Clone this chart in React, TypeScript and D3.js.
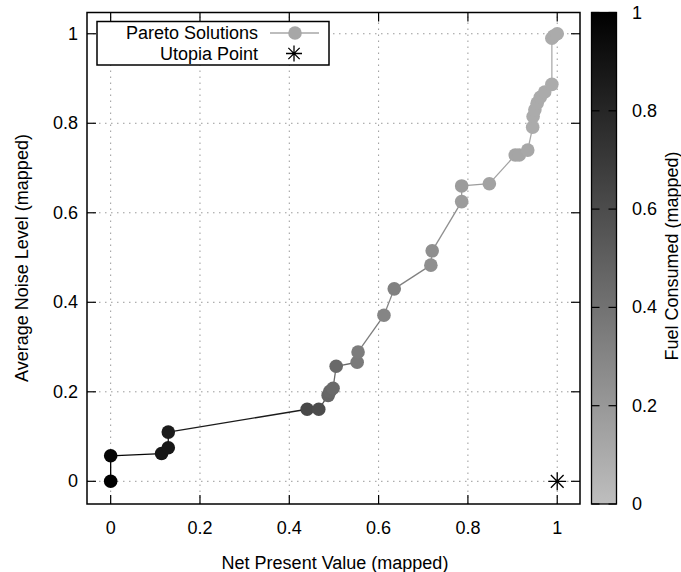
import React, { useEffect, useRef } from 'react';
import * as d3 from 'd3';

// pareto front, in path order
const npv = [0, 0, 0.114, 0.129, 0.129, 0.44, 0.466, 0.487, 0.491, 0.498, 0.505, 0.552, 0.554, 0.612, 0.635, 0.717, 0.72, 0.786, 0.786, 0.848, 0.906, 0.915, 0.934, 0.945, 0.946, 0.95, 0.955, 0.962, 0.972, 0.988, 0.988, 0.992, 1.0];
const noise = [0, 0.057, 0.062, 0.075, 0.11, 0.161, 0.161, 0.192, 0.201, 0.208, 0.257, 0.266, 0.289, 0.371, 0.43, 0.483, 0.515, 0.625, 0.66, 0.665, 0.729, 0.729, 0.74, 0.791, 0.815, 0.83, 0.845, 0.858, 0.87, 0.887, 0.99, 0.995, 1.0];
const fuel = [1.0, 0.97, 0.88, 0.88, 0.86, 0.62, 0.6, 0.47, 0.46, 0.44, 0.45, 0.36, 0.35, 0.3, 0.32, 0.25, 0.25, 0.18, 0.18, 0.15, 0.13, 0.13, 0.12, 0.1, 0.1, 0.1, 0.1, 0.1, 0.1, 0.1, 0.1, 0.1, 0.1];

const utopia = [1, 0];
const xTicks = [0, 0.2, 0.4, 0.6, 0.8, 1];
const yTicks = [0, 0.2, 0.4, 0.6, 0.8, 1];
const cbTicks = [0, 0.2, 0.4, 0.6, 0.8, 1];

const W = 681;
const H = 572;
const FONT = '"Liberation Sans", Arial, sans-serif';
const FS = 18;

export default function App() {
    const ref = useRef<SVGSVGElement>(null);

    useEffect(() => {
        drawChart();
    }, []);

    const plot = { left: 87, right: 580, top: 12.5, bottom: 504 };
    const cb = { left: 591.5, right: 616.5 };

    const xScale = d3.scaleLinear().domain([-0.053, 1.051]).range([plot.left, plot.right]);
    const yScale = d3.scaleLinear().domain([-0.0507, 1.0475]).range([plot.bottom, plot.top]);
    const cbScale = d3.scaleLinear().domain([0, 1]).range([plot.bottom, plot.top]);
    const color = d3.scaleLinear<string>().domain([0, 1]).range(['#bebebe', '#000000']).interpolate(d3.interpolateRgb);

    function drawChart() {
        const svg = d3.select(ref.current);
        svg.selectAll('*').remove();
        svg.append('rect').attr('width', W).attr('height', H).attr('fill', '#fff');

        // grid
        const grid = svg.append('g')
            .attr('stroke', '#9a9a9a')
            .attr('stroke-width', 1)
            .attr('stroke-dasharray', '1.5,4.5');
        xTicks.forEach(t => {
            grid.append('line')
                .attr('x1', xScale(t)).attr('x2', xScale(t))
                .attr('y1', plot.bottom).attr('y2', plot.top);
        });
        yTicks.forEach(t => {
            grid.append('line')
                .attr('x1', plot.left).attr('x2', plot.right)
                .attr('y1', yScale(t)).attr('y2', yScale(t));
        });

        // ticks, mirrored
        const tl = 9;
        const ticks = svg.append('g').attr('stroke', '#000').attr('stroke-width', 1.2);
        xTicks.forEach(t => {
            const x = xScale(t);
            ticks.append('line').attr('x1', x).attr('x2', x).attr('y1', plot.bottom).attr('y2', plot.bottom - tl);
            ticks.append('line').attr('x1', x).attr('x2', x).attr('y1', plot.top).attr('y2', plot.top + tl);
        });
        yTicks.forEach(t => {
            const y = yScale(t);
            ticks.append('line').attr('x1', plot.left).attr('x2', plot.left + tl).attr('y1', y).attr('y2', y);
            ticks.append('line').attr('x1', plot.right).attr('x2', plot.right - tl).attr('y1', y).attr('y2', y);
        });

        // tick labels
        svg.append('g')
            .selectAll('text')
            .data(xTicks)
            .join('text')
            .attr('x', d => xScale(d))
            .attr('y', 528)
            .attr('text-anchor', 'middle')
            .attr('dominant-baseline', 'central')
            .attr('font-family', FONT)
            .attr('font-size', FS)
            .text(d => d3.format('~g')(d));
        svg.append('g')
            .selectAll('text')
            .data(yTicks)
            .join('text')
            .attr('x', 78)
            .attr('y', d => yScale(d))
            .attr('text-anchor', 'end')
            .attr('dominant-baseline', 'central')
            .attr('font-family', FONT)
            .attr('font-size', FS)
            .text(d => d3.format('~g')(d));

        // pareto path, segment colour from start point
        const pts = npv.map((v, i) => ({ x: v, y: noise[i], z: fuel[i] }));
        const lines = svg.append('g').attr('stroke-width', 1.3);
        for (let i = 0; i < pts.length - 1; i++) {
            lines.append('line')
                .attr('x1', xScale(pts[i].x)).attr('y1', yScale(pts[i].y))
                .attr('x2', xScale(pts[i + 1].x)).attr('y2', yScale(pts[i + 1].y))
                .attr('stroke', color(pts[i].z));
        }
        svg.append('g')
            .selectAll('circle')
            .data(pts)
            .join('circle')
            .attr('cx', d => xScale(d.x))
            .attr('cy', d => yScale(d.y))
            .attr('r', 6.8)
            .attr('fill', d => color(d.z));

        // utopia star
        const star = (g: any, cx: number, cy: number, r: number) => {
            const d = r * Math.SQRT1_2;
            g.append('path')
                .attr('d', `M${cx - r},${cy}L${cx + r},${cy}M${cx},${cy - r}L${cx},${cy + r}` +
                    `M${cx - d},${cy - d}L${cx + d},${cy + d}M${cx - d},${cy + d}L${cx + d},${cy - d}`)
                .attr('stroke', '#000')
                .attr('stroke-width', 1.3)
                .attr('fill', 'none');
        };
        star(svg, xScale(utopia[0]), yScale(utopia[1]), 9);

        // frame
        svg.append('rect')
            .attr('x', plot.left).attr('y', plot.top)
            .attr('width', plot.right - plot.left).attr('height', plot.bottom - plot.top)
            .attr('fill', 'none').attr('stroke', '#000').attr('stroke-width', 1.5);

        // legend
        const lg = svg.append('g');
        lg.append('rect')
            .attr('x', 97).attr('y', 21.5).attr('width', 232).attr('height', 43.5)
            .attr('fill', '#fff').attr('stroke', '#000').attr('stroke-width', 1.5);
        lg.append('text')
            .attr('x', 258).attr('y', 33).attr('text-anchor', 'end').attr('dominant-baseline', 'central')
            .attr('font-family', FONT).attr('font-size', FS).text('Pareto Solutions');
        lg.append('text')
            .attr('x', 258).attr('y', 53.5).attr('text-anchor', 'end').attr('dominant-baseline', 'central')
            .attr('font-family', FONT).attr('font-size', FS).text('Utopia Point');
        lg.append('line')
            .attr('x1', 270).attr('x2', 319).attr('y1', 33).attr('y2', 33)
            .attr('stroke', color(0.12)).attr('stroke-width', 1.3);
        lg.append('circle').attr('cx', 295).attr('cy', 33).attr('r', 6.8).attr('fill', color(0.12));
        star(lg, 294, 53.5, 8);

        // colour bar
        const defs = svg.append('defs');
        const grad = defs.append('linearGradient')
            .attr('id', 'cbgrad').attr('x1', 0).attr('x2', 0).attr('y1', 1).attr('y2', 0);
        d3.range(0, 1.01, 0.1).forEach(t => {
            grad.append('stop').attr('offset', t).attr('stop-color', color(t));
        });
        svg.append('rect')
            .attr('x', cb.left).attr('y', plot.top)
            .attr('width', cb.right - cb.left).attr('height', plot.bottom - plot.top)
            .attr('fill', 'url(#cbgrad)').attr('stroke', '#000').attr('stroke-width', 1.3);
        const cbt = svg.append('g').attr('stroke', '#000').attr('stroke-width', 1.2);
        cbTicks.forEach(t => {
            const y = cbScale(t);
            cbt.append('line').attr('x1', cb.left).attr('x2', cb.left + 8).attr('y1', y).attr('y2', y);
            cbt.append('line').attr('x1', cb.right).attr('x2', cb.right - 8).attr('y1', y).attr('y2', y);
        });
        svg.append('g')
            .selectAll('text')
            .data(cbTicks)
            .join('text')
            .attr('x', 632)
            .attr('y', d => cbScale(d))
            .attr('dominant-baseline', 'central')
            .attr('font-family', FONT)
            .attr('font-size', FS)
            .text(d => d3.format('~g')(d));

        // axis titles
        svg.append('text')
            .attr('x', 335).attr('y', 563)
            .attr('text-anchor', 'middle').attr('dominant-baseline', 'central')
            .attr('font-family', FONT).attr('font-size', FS)
            .text('Net Present Value (mapped)');
        svg.append('text')
            .attr('transform', `translate(22,258) rotate(-90)`)
            .attr('text-anchor', 'middle').attr('dominant-baseline', 'central')
            .attr('font-family', FONT).attr('font-size', FS)
            .text('Average Noise Level (mapped)');
        svg.append('text')
            .attr('transform', `translate(672,256) rotate(-90)`)
            .attr('text-anchor', 'middle').attr('dominant-baseline', 'central')
            .attr('font-family', FONT).attr('font-size', FS)
            .text('Fuel Consumed (mapped)');
    }

    return (
        <svg ref={ref} width={W} height={H} style={{ position: 'absolute', left: 0, top: 0 }} />
    );
}
